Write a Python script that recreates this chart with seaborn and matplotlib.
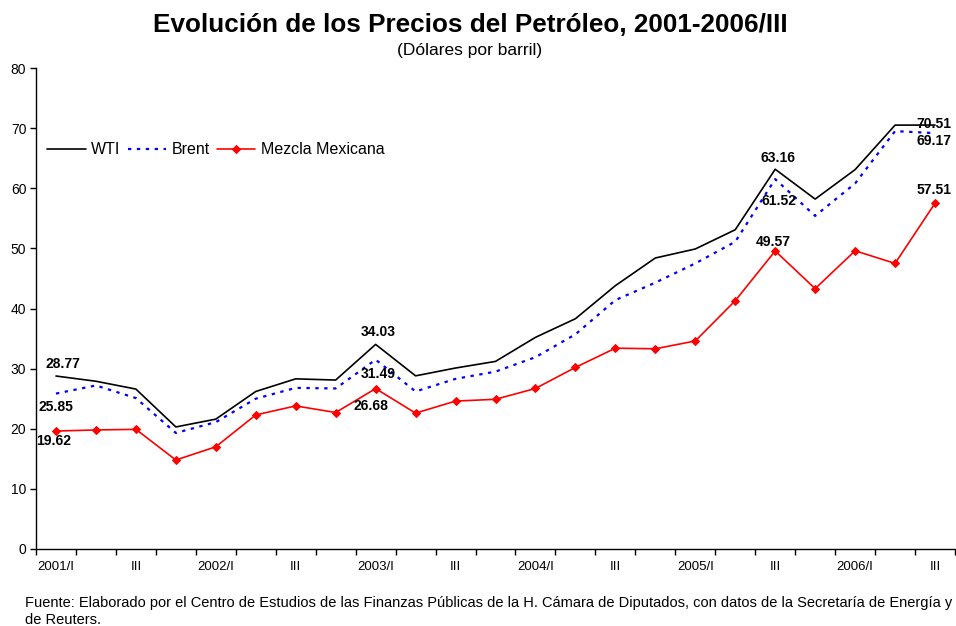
import numpy as np
import pandas as pd
import matplotlib
matplotlib.use("Agg")
import matplotlib.pyplot as plt
import seaborn as sns

sns.set_style("ticks")
plt.rcParams['font.family'] = ['Liberation Sans', 'DejaVu Sans']
plt.rcParams.update({"text.color": "black", "axes.labelcolor": "black",
                     "xtick.color": "black", "ytick.color": "black"})

# quarterly prices, 2001/I .. 2006/III
quarters = [f"{y}/{q}" for y in range(2001, 2007) for q in ["I", "II", "III", "IV"]][:23]
wti = [28.77, 27.9, 26.6, 20.3, 21.6, 26.2, 28.3, 28.1, 34.03, 28.8, 30.1, 31.2,
       35.2, 38.3, 43.8, 48.4, 49.9, 53.1, 63.16, 58.2, 63.1, 70.5, 70.51]
brent = [25.85, 27.2, 25.1, 19.3, 21.1, 25.0, 26.8, 26.7, 31.49, 26.2, 28.3, 29.5,
         31.9, 35.7, 41.4, 44.3, 47.5, 51.1, 61.52, 55.4, 60.8, 69.5, 69.17]
mezcla = [19.62, 19.8, 19.9, 14.8, 17.0, 22.3, 23.8, 22.7, 26.68, 22.6, 24.6, 24.9,
          26.7, 30.2, 33.4, 33.3, 34.6, 41.3, 49.57, 43.3, 49.6, 47.5, 57.51]
tick_labels = ["2001/I", "III", "2002/I", "III", "2003/I", "III", "2004/I", "III",
               "2005/I", "III", "2006/I", "III"]

df = pd.DataFrame({"pos": np.arange(len(quarters)), "WTI": wti,
                   "Brent": brent, "Mezcla Mexicana": mezcla})

fig = plt.figure(figsize=(9.56, 6.26), dpi=100)
ax = fig.add_axes([36 / 956, 1 - 549 / 626, 919 / 956, (549 - 68) / 626])

sns.lineplot(data=df, x="pos", y="WTI", ax=ax, color="black", lw=1.2, label="WTI")
sns.lineplot(data=df, x="pos", y="Brent", ax=ax, color="blue", lw=1.6,
             linestyle=(0, (1.5, 2.5)), label="Brent")
sns.lineplot(data=df, x="pos", y="Mezcla Mexicana", ax=ax, color="red", lw=1.2,
             marker="D", markersize=4.5, markeredgecolor="red", label="Mezcla Mexicana")

ax.set_xlim(-0.5, len(quarters) - 0.5)
ax.set_ylim(0, 80)
ax.set_yticks(range(0, 81, 10))
ax.set_xticks(np.arange(-0.5, len(quarters), 1))
ax.set_xticklabels([])
ax.set_xticks(np.arange(0, len(quarters), 2), minor=True)
ax.set_xticklabels(tick_labels, minor=True)
ax.tick_params(axis="x", which="minor", length=0, pad=9, labelsize=9.5)
ax.tick_params(axis="x", which="major", length=4, width=1, color="black")
ax.tick_params(axis="y", length=4, width=1, color="black", labelsize=10, pad=3)
ax.set_xlabel("")
ax.set_ylabel("")
for s in ["top", "right"]:
    ax.spines[s].set_visible(False)
for s in ["left", "bottom"]:
    ax.spines[s].set_color("black")
    ax.spines[s].set_linewidth(1)

leg = ax.legend(loc="upper left", bbox_to_anchor=(0.0, 0.869), ncol=3, frameon=False,
                fontsize=11.5, handlelength=2.4, handletextpad=0.35, columnspacing=0.45,
                borderaxespad=0.3)

# value labels: (series, index, offset in points)
notes = [(wti, 0, (5, 9)), (brent, 0, (0, -10)), (mezcla, 0, (-2, -7)),
         (wti, 8, (2, 9)), (brent, 8, (1.5, -10)), (mezcla, 8, (-3.5, -12.5)),
         (wti, 18, (2, 8)), (brent, 18, (3, -15.5)), (mezcla, 18, (-1.5, 6.5)),
         (wti, 22, (-0.7, 1)), (brent, 22, (-0.7, -6)), (mezcla, 22, (-0.7, 9.6))]
for series, i, off in notes:
    ax.annotate(f"{series[i]:.2f}", xy=(i, series[i]), xytext=off,
                textcoords="offset points", ha="center", va="center",
                fontsize=10, fontweight="bold")

fig.text(470 / 956, 1 - 25 / 626, "Evolución de los Precios del Petróleo, 2001-2006/III",
         ha="center", va="center", fontsize=18.8, fontweight="bold")
fig.text(470 / 956, 1 - 51 / 626, "(Dólares por barril)", ha="center", va="center",
         fontsize=12.5)
fig.text(25 / 956, 1 - 611.5 / 626,
         "Fuente: Elaborado por el Centro de Estudios de las Finanzas Públicas de la H. Cámara de "
         "Diputados, con datos de la Secretaría de Energía y\nde Reuters.",
         ha="left", va="center", fontsize=10.5, linespacing=1.2)

fig.savefig("out.png", dpi=100)
